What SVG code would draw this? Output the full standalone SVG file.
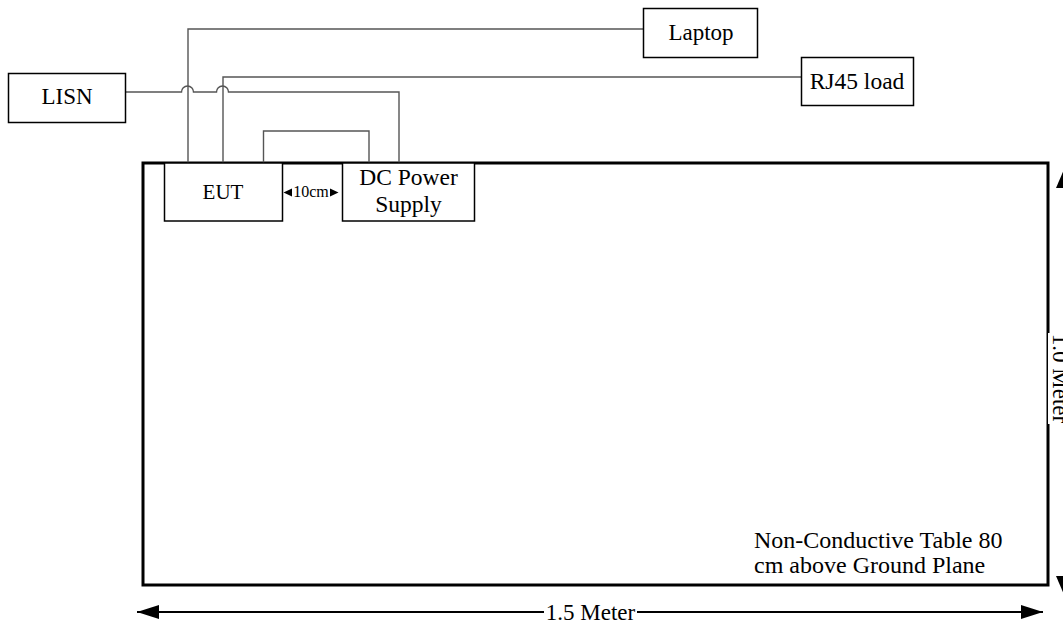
<svg xmlns="http://www.w3.org/2000/svg" width="1063" height="624" viewBox="0 0 1063 624">
<style>
.box{fill:#fff;stroke:#000;stroke-width:1.5}
.wire{fill:none;stroke:#555;stroke-width:1.4}
.t{font-family:"Liberation Serif","Times New Roman",serif;fill:#000}
.dim{stroke:#000;stroke-width:2;fill:none}
</style>
<defs>
<marker id="ahL" viewBox="0 0 10 10" refX="10" refY="5" markerWidth="22" markerHeight="14" markerUnits="userSpaceOnUse" orient="auto-start-reverse" preserveAspectRatio="none">
<path d="M0,0 L10,5 L0,10 Z" fill="#000"/>
</marker>
<marker id="ahV" viewBox="0 0 10 10" refX="10" refY="5" markerWidth="21" markerHeight="18" markerUnits="userSpaceOnUse" orient="auto-start-reverse" preserveAspectRatio="none">
<path d="M0,0 L10,5 L0,10 Z" fill="#000"/>
</marker>
</defs>
<rect width="1063" height="624" fill="#fff"/>
<g id="table">
<rect x="143" y="163" width="905" height="422" fill="none" stroke="#000" stroke-width="3"/>
<text class="t" x="754" y="548" font-size="24">Non-Conductive Table 80</text>
<text class="t" x="754" y="573" font-size="24">cm above Ground Plane</text>
</g>
<g id="connectors">
<path class="wire" d="M126,92 H181.5 A6,6 0 0 1 193.5,92 H216.5 A6,6 0 0 1 228.5,92 H399 V163"/>
<path class="wire" d="M188,163 V29 H643"/>
<path class="wire" d="M223,163 V77 H801"/>
<path class="wire" d="M263.5,163 V131 H369 V163"/>
</g>
<g id="lisn">
<rect class="box" x="8.5" y="73.5" width="117" height="49"/>
<text class="t" x="67" y="104" font-size="23" text-anchor="middle">LISN</text>
</g>
<g id="laptop">
<rect class="box" x="643.5" y="8.5" width="114" height="49"/>
<text class="t" x="701" y="40" font-size="23" text-anchor="middle">Laptop</text>
</g>
<g id="rj45">
<rect class="box" x="801.5" y="57.5" width="112" height="48"/>
<text class="t" x="857" y="89" font-size="23.5" text-anchor="middle">RJ45 load</text>
</g>
<g id="eut">
<rect class="box" x="164.5" y="163" width="118" height="58"/>
<text class="t" x="223" y="199" font-size="21" text-anchor="middle">EUT</text>
</g>
<g id="dcps">
<rect class="box" x="342.5" y="163" width="132" height="58"/>
<text class="t" x="408.5" y="185" font-size="23.5" text-anchor="middle">DC Power</text>
<text class="t" x="408.5" y="212" font-size="23.5" text-anchor="middle">Supply</text>
</g>
<g id="spacing">
<path d="M292,188.5 L283.5,192.5 L292,196.5 Z" fill="#000"/>
<path d="M330,188.5 L338.5,192.5 L330,196.5 Z" fill="#000"/>
<text class="t" x="311" y="197" font-size="16" text-anchor="middle">10cm</text>
</g>
<g id="dim-width">
<line class="dim" x1="137" y1="612" x2="1043" y2="612" marker-start="url(#ahL)" marker-end="url(#ahL)"/>
<rect x="544" y="600" width="93" height="24" fill="#fff"/>
<text class="t" x="590.5" y="620" font-size="23" text-anchor="middle">1.5 Meter</text>
</g>
<g id="dim-height">
<line class="dim" x1="1065" y1="167" x2="1065" y2="597" marker-start="url(#ahV)" marker-end="url(#ahV)"/>
<rect x="1048" y="333" width="15" height="91" fill="#fff"/>
<text class="t" font-size="23" text-anchor="middle" transform="translate(1053,378.5) rotate(90)">1.0 Meter</text>
</g>
</svg>
